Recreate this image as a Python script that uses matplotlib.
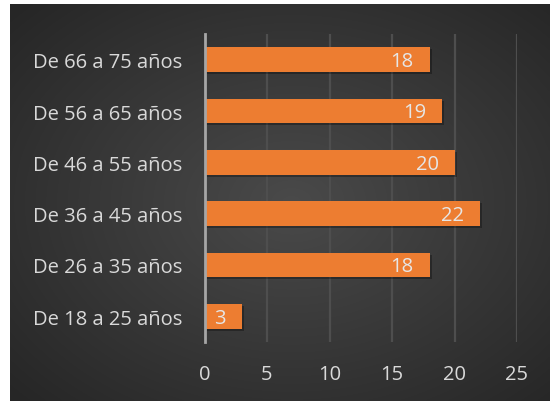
import numpy as np
import matplotlib
matplotlib.use("Agg")
import matplotlib.pyplot as plt
import matplotlib.patheffects as pe

categories = ["De 18 a 25 años", "De 26 a 35 años", "De 36 a 45 años",
              "De 46 a 55 años", "De 56 a 65 años", "De 66 a 75 años"]
values = [3, 18, 22, 20, 19, 18]
xticks = [0, 5, 10, 15, 20, 25]

plt.rcParams['font.family'] = ['Open Sans', 'DejaVu Sans']

W, H = 550, 402
fig = plt.figure(figsize=(W / 100, H / 100), dpi=100)
fig.patch.set_facecolor("white")

# radial gradient backdrop
bg = fig.add_axes([10 / W, 0, (W - 10) / W, (H - 5) / H])
bg.set_axis_off()
ny, nx = 200, 270
yy, xx = np.mgrid[0:ny, 0:nx]
cx, cy = nx * 0.52, ny * 0.5
r = np.sqrt(((xx - cx) / (nx * 0.5)) ** 2 + ((yy - cy) / (ny * 0.5)) ** 2) / np.sqrt(2)
light, dark = 0.29, 0.15
g = light + (dark - light) * np.clip(r, 0, 1)
bg.imshow(np.dstack([g, g, g]), aspect="auto", extent=[0, 1, 0, 1], interpolation="bilinear")

x0, x25 = 204.5, 517
ax = fig.add_axes([x0 / W, 1 - 343 / H, (x25 - x0) / W, (343 - 35) / H])
ax.set_facecolor("none")
y = np.arange(len(categories))
ax.barh(y, values, height=0.48, color="#ED7D31", zorder=3,
        path_effects=[pe.SimplePatchShadow(offset=(1.5, -1.5), shadow_rgbFace="black", alpha=0.3),
                      pe.Normal()])
for yi, v in zip(y, values):
    ax.annotate(f"{v:.0f}", xy=(v, yi), xytext=(-11.5, -1), textcoords="offset points",
                ha="right", va="center", color="#e6e6e6", fontsize=14.5, zorder=4)

ax.set_xlim(0, 25)
ax.set_ylim(-0.5, 5.5)
ax.set_xticks(xticks)
ax.set_yticks(y)
ax.set_yticklabels(categories)
ax.tick_params(axis="both", length=0, colors="#d9d9d9", labelsize=14.5)
ax.tick_params(axis="x", pad=16)
ax.tick_params(axis="y", pad=16)
ax.grid(axis="x", color="#4e4e4e", linewidth=1.6, zorder=0)
for s in ["top", "right", "bottom"]:
    ax.spines[s].set_visible(False)
ax.spines["left"].set_color("#a6a6a6")
ax.spines["left"].set_linewidth(2)
ax.spines["left"].set_zorder(5)

fig.savefig("out.png", dpi=100, facecolor=fig.get_facecolor())
